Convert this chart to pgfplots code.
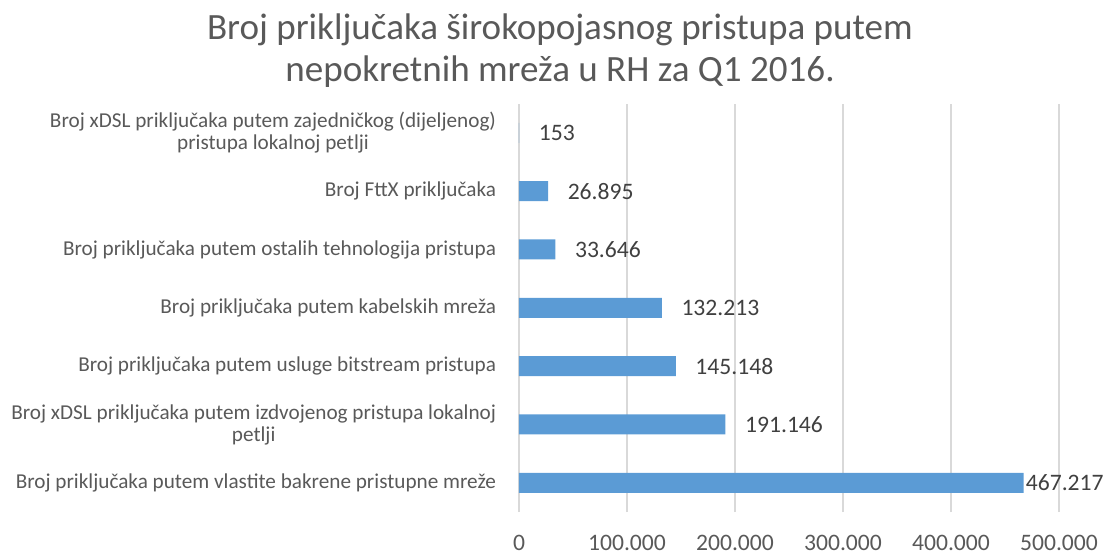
\documentclass[border=0pt]{standalone}
\usepackage{pgfplots}
\pgfplotsset{compat=1.18}
\usepackage{pgfplotstable}
\usepackage{fontspec}
\setmainfont{Carlito}
\definecolor{barblue}{HTML}{5B9BD5}
\definecolor{txtgray}{HTML}{595959}
\definecolor{lblgray}{HTML}{404040}
\definecolor{gridgray}{HTML}{D9D9D9}

\pgfplotstableread{
y x lab sh
0 467217 467.217 1.5
1 191146 191.146 14.6
2 145148 145.148 14.6
3 132213 132.213 14.6
4 33646 33.646 14.6
5 26895 26.895 14.6
6 153 153 14.6
}\datatab

\begin{document}
\begin{tikzpicture}
\path[use as bounding box] (-389.25pt,-31.5pt) rectangle (443.25pt,384pt);
\begin{axis}[
  at={(0pt,0pt)}, anchor=south west,
  width=405pt, height=306.3pt, scale only axis,
  xbar, bar width=15pt,
  xmin=0, xmax=500000, ymin=-0.5, ymax=6.5,
  axis lines*=left,
  x axis line style={draw=none},
  y axis line style={draw=gridgray, line width=1pt},
  xmajorgrids, grid style={draw=gridgray, line width=1pt},
  xtick={0,100000,200000,300000,400000,500000},
  xticklabels={0,100.000,200.000,300.000,400.000,500.000},
  scaled x ticks=false,
  major x tick style={draw=none},
  xticklabel style={anchor=center, inner sep=0pt, yshift=-23pt, font=\fontsize{17.7}{20}\selectfont, text=txtgray},
  ytick={0,1,2,3,4,5,6},
  yticklabels={
    Broj priključaka putem vlastite bakrene pristupne mreže,
    {Broj xDSL priključaka putem izdvojenog pristupa lokalnoj\\petlji},
    Broj priključaka putem usluge bitstream pristupa,
    Broj priključaka putem kabelskih mreža,
    Broj priključaka putem ostalih tehnologija pristupa,
    Broj FttX priključaka,
    {Broj xDSL priključaka putem zajedničkog (dijeljenog)\\pristupa lokalnoj petlji}},
  major y tick style={draw=none},
  yticklabel style={anchor=east, inner sep=0pt, xshift=-12.75pt, align=center,
    font=\fontsize{15.9}{16.5}\selectfont, text=txtgray},
  extra y ticks={-0.5,0.5,1.5,2.5,3.5,4.5,5.5,6.5},
  extra y tick labels={},
  extra y tick style={major tick length=5pt, tick align=outside,
    tick style={draw=gridgray, line width=1pt}},
  nodes near coords,
  point meta=explicit symbolic,
  visualization depends on={\thisrow{sh} \as \myshift},
  every node near coord/.append style={anchor=west, inner sep=0pt,
    xshift=\myshift pt, font=\fontsize{17.7}{20}\selectfont, text=lblgray},
]
\addplot[fill=barblue, draw=none] table[x=x, y=y, meta=lab] {\datatab};
\end{axis}
\node[align=center, text=txtgray, font=\fontsize{27.8}{31.5}\selectfont] at (30.75pt,345.75pt)
  {Broj priključaka širokopojasnog pristupa putem\\nepokretnih mreža u RH za Q1 2016.};
\end{tikzpicture}
\end{document}
